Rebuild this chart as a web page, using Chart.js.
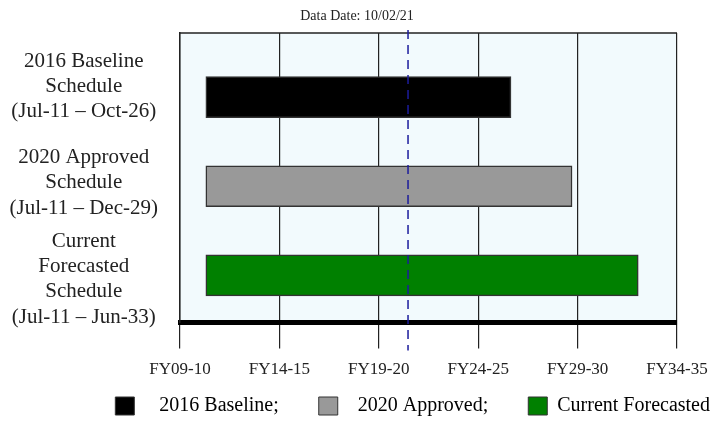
<!DOCTYPE html>
<html>
<head>
<meta charset="utf-8">
<script src="https://cdn.jsdelivr.net/npm/chart.js@4/dist/chart.umd.min.js"></script>
<style>
  html, body { margin: 0; padding: 0; background: #fff; }
  #wrap { width: 726px; height: 421px; }
</style>
</head>
<body>
<div id="wrap"><canvas id="myChart" width="726" height="421"></canvas></div>
<script>
// schedule rows (multi-line labels)
const categories = [
  ['2016 Baseline', 'Schedule', '(Jul-11 – Oct-26)'],
  ['2020 Approved', 'Schedule', '(Jul-11 – Dec-29)'],
  ['Current', 'Forecasted', 'Schedule', '(Jul-11 – Jun-33)']
];
const seriesNames = ['2016 Baseline;', '2020 Approved;', 'Current Forecasted'];
const seriesColors = ['#000000', '#999999', '#008000'];
// decimal years
const startYears = [2011.55, 2011.55, 2011.55];
const endYears = [2026.9, 2029.97, 2033.3];
const tickValues = [2010.25, 2015.25, 2020.25, 2025.25, 2030.25, 2035.25];
const tickLabels = ['FY09-10', 'FY14-15', 'FY19-20', 'FY24-25', 'FY29-30', 'FY34-35'];
const dataDate = 2021.72;
const dataDateLabel = 'Data Date: 10/02/21';

const serif = "'Liberation Serif', 'DejaVu Serif', serif";
// spacing around legend texts (before, after)
const legendPad = [['   ', '       '], ['  ', '       '], ['', '']];

const datasets = seriesNames.map((name, i) => ({
  label: name,
  data: [{ x: [startYears[i], endYears[i]], y: i }],
  yAxisID: 'yBars',
  backgroundColor: seriesColors[i],
  borderColor: '#333',
  borderWidth: 1.5,
  borderSkipped: false,
  grouped: false,
  barThickness: 41
}));

const frame = {
  id: 'frame',
  beforeDraw(chart) {
    const { ctx, chartArea: a } = chart;
    ctx.save();
    ctx.fillStyle = '#f2fafd';
    ctx.fillRect(a.left, a.top, a.right - a.left, a.bottom - a.top);
    ctx.restore();
  },
  afterDatasetsDraw(chart) {
    const { ctx, chartArea: a, scales } = chart;
    ctx.save();
    // top border
    ctx.strokeStyle = '#222';
    ctx.lineWidth = 1.5;
    ctx.beginPath();
    ctx.moveTo(a.left, a.top);
    ctx.lineTo(a.right, a.top);
    ctx.stroke();
    // data date line
    const x = scales.x.getPixelForValue(dataDate);
    ctx.strokeStyle = '#1c1c9c';
    ctx.lineWidth = 1.5;
    ctx.setLineDash([9, 6]);
    ctx.beginPath();
    ctx.moveTo(x, a.top - 3);
    ctx.lineTo(x, a.bottom + 28);
    ctx.stroke();
    ctx.setLineDash([]);
    ctx.fillStyle = '#222';
    ctx.font = '14px ' + serif;
    ctx.textAlign = 'center';
    ctx.textBaseline = 'middle';
    ctx.fillText(dataDateLabel, x - 51, 16);
    ctx.restore();
  }
};

var ctx = document.getElementById('myChart').getContext('2d');
var myChart = new Chart(ctx, {
  type: 'bar',
  data: { labels: categories, datasets: datasets },
  options: {
    indexAxis: 'y',
    responsive: false,
    animation: false,
    layout: { padding: { top: 33, right: 11, left: 0, bottom: -5 } },
    scales: {
      x: {
        type: 'linear',
        min: tickValues[0],
        max: tickValues[tickValues.length - 1],
        afterBuildTicks: s => { s.ticks = tickValues.map(v => ({ value: v })); },
        afterFit: s => { s.paddingLeft = 0; s.paddingRight = 0; },
        grid: { color: '#222', lineWidth: 1.2, drawTicks: true, tickLength: 26, tickColor: '#222' },
        border: { color: '#000', width: 5 },
        ticks: {
          color: '#222',
          font: { family: serif, size: 17 },
          padding: 11,
          maxRotation: 0,
          autoSkip: false,
          callback: (v, i) => tickLabels[i]
        }
      },
      y: {
        grid: { display: false },
        border: { color: '#222', width: 1.5 },
        afterFit: s => { s.width = 180; s.paddingTop = 0; s.paddingBottom = 0; },
        ticks: {
          color: '#222',
          crossAlign: 'center',
          autoSkip: false,
          labelOffset: 5,
          font: { family: serif, size: 21, lineHeight: 1.2 },
          padding: 14
        }
      },
      // hidden row axis the bars sit on
      yBars: {
        type: 'linear',
        display: false,
        offset: false,
        reverse: true,
        min: -0.72,
        max: 2.53
      },
      // empty right-hand strip
      yRight: {
        type: 'category',
        position: 'right',
        grid: { display: false },
        border: { display: false },
        ticks: { display: false },
        afterFit: s => { s.width = 38; s.paddingTop = 0; s.paddingBottom = 0; }
      }
    },
    plugins: {
      legend: {
        position: 'bottom',
        align: 'end',
        labels: {
          color: '#222',
          font: { family: serif, size: 20 },
          boxWidth: 19,
          boxHeight: 18,
          padding: 5,
          generateLabels: chart => chart.data.datasets.map((d, i) => ({
            text: legendPad[i][0] + d.label + legendPad[i][1],
            fillStyle: d.backgroundColor,
            strokeStyle: '#333',
            lineWidth: 1,
            datasetIndex: i
          }))
        }
      },
      tooltip: { enabled: false }
    }
  },
  plugins: [frame]
});
</script>
</body>
</html>
